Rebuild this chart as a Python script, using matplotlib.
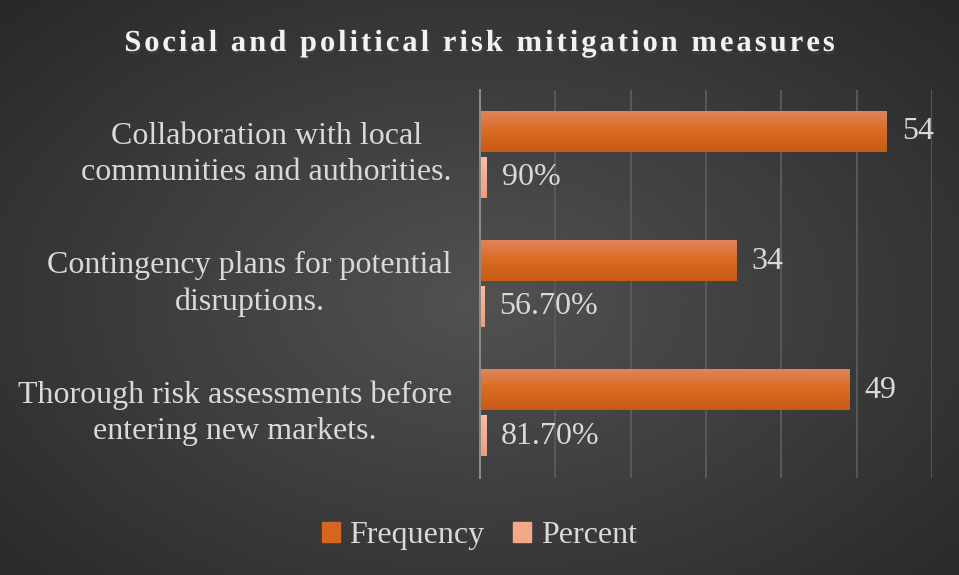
import numpy as np
import matplotlib
matplotlib.use("Agg")
import matplotlib.pyplot as plt
import matplotlib.patheffects as pe
from matplotlib.patches import Patch
from matplotlib.colors import LinearSegmentedColormap

categories = ["Thorough risk assessments before\nentering new markets.",
              "Contingency plans for potential\ndisruptions.",
              "Collaboration with local\ncommunities and authorities."]
frequency = [49, 34, 54]
percent = [0.817, 0.567, 0.90]
percent_labels = ["81.70%", "56.70%", "90%"]
title = "Social and political risk mitigation measures"

plt.rcParams["font.family"] = ["Liberation Serif", "DejaVu Serif"]
text_col = "#d9d9d9"
freq_col = "#d5661f"
pct_col = "#f4a986"
fs = 23

fig = plt.figure(figsize=(9.59, 5.75), dpi=100)

# radial background
bg = fig.add_axes([0, 0, 1, 1], zorder=-10)
yy, xx = np.mgrid[0:575, 0:959]
r = np.sqrt(((xx - 480) / 700.0) ** 2 + ((yy - 300) / 450.0) ** 2)
shade = np.clip(0.32 - 0.17 * r, 0.15, 0.32)
bg.imshow(np.dstack([shade] * 3), aspect="auto", extent=[0, 1, 0, 1])
bg.axis("off")

ax = fig.add_axes([0.5005, 0.1687, 0.4713, 0.6748])
ax.set_facecolor("none")

y = np.arange(len(categories))
h = 0.31
off = 0.177
fbars = ax.barh(y + off, frequency, height=h, color=freq_col, zorder=3)
pbars = ax.barh(y - off, percent, height=h, color=pct_col, zorder=3)

# vertical gradient on bars (light on top)
grad = np.linspace(0, 1, 64).reshape(-1, 1)
cm1 = LinearSegmentedColormap.from_list("o", ["#e0845a", "#d96a22", "#c75a15"])
cm2 = LinearSegmentedColormap.from_list("p", ["#f8bca2", "#ee9e7a"])
for bars, cm in ((fbars, cm1), (pbars, cm2)):
    for b in bars:
        x0, y0 = b.get_xy()
        ax.imshow(grad, cmap=cm, aspect="auto", zorder=4,
                  extent=[x0, x0 + b.get_width(), y0, y0 + b.get_height()])

for b, v in zip(fbars, frequency):
    ax.annotate(str(v), (b.get_width(), b.get_y() + b.get_height() / 2),
                xytext=(15, 0), textcoords="offset pixels",
                va="center", ha="left", fontsize=fs, color=text_col, zorder=5)
for b, lab in zip(pbars, percent_labels):
    ax.annotate(lab, (b.get_width(), b.get_y() + b.get_height() / 2),
                xytext=(15, 0), textcoords="offset pixels",
                va="center", ha="left", fontsize=fs, color=text_col, zorder=5)

ax.set_xlim(0, 60)
ax.set_ylim(-0.5, len(categories) - 0.5)
ax.set_xticks(np.arange(0, 61, 10))
ax.xaxis.grid(True, color="#5e5e5e", linewidth=1.2, zorder=0)
ax.tick_params(axis="x", length=0, labelbottom=False)
ax.set_yticks([])
for yi, cat in zip(y, categories):
    ax.annotate(cat, (0, yi), xytext=(-28, 0), textcoords="offset pixels",
                ha="right", va="center", multialignment="center",
                linespacing=1.3, fontsize=fs, color=text_col,
                annotation_clip=False)
for s in ["top", "right", "bottom"]:
    ax.spines[s].set_visible(False)
ax.spines["left"].set_color("#8a8a8a")
ax.spines["left"].set_linewidth(1.5)
ax.spines["left"].set_zorder(6)

# title with letter spacing, drawn char by char
renderer = fig.canvas.get_renderer()
tkw = dict(fontsize=22, fontweight="bold", color="#f2f2f2",
           path_effects=[pe.withSimplePatchShadow(offset=(1, -2), alpha=0.5)])

def width_px(s):
    t = fig.text(0, 0, s, **tkw)
    w = t.get_window_extent(renderer).width
    t.remove()
    return w

bar_w = width_px("||")
widths = [width_px("|" + c + "|") - bar_w for c in title]
spacing = 3.0
total = sum(widths) + spacing * (len(title) - 1)
xpos = (959 - total) / 2
for c, w in zip(title, widths):
    fig.text(xpos / 959, 1 - 51 / 575, c, ha="left", va="baseline", **tkw)
    xpos += w + spacing

handles = [Patch(color=freq_col, label="Frequency"),
           Patch(color=pct_col, label="Percent")]
fig.legend(handles=handles, loc="center", bbox_to_anchor=(0.5, 0.068), ncol=2,
           frameon=False, fontsize=fs, labelcolor=text_col,
           handlelength=0.55, handleheight=0.55, handletextpad=0.3,
           columnspacing=0.9)

fig.savefig("out.png", dpi=100)
